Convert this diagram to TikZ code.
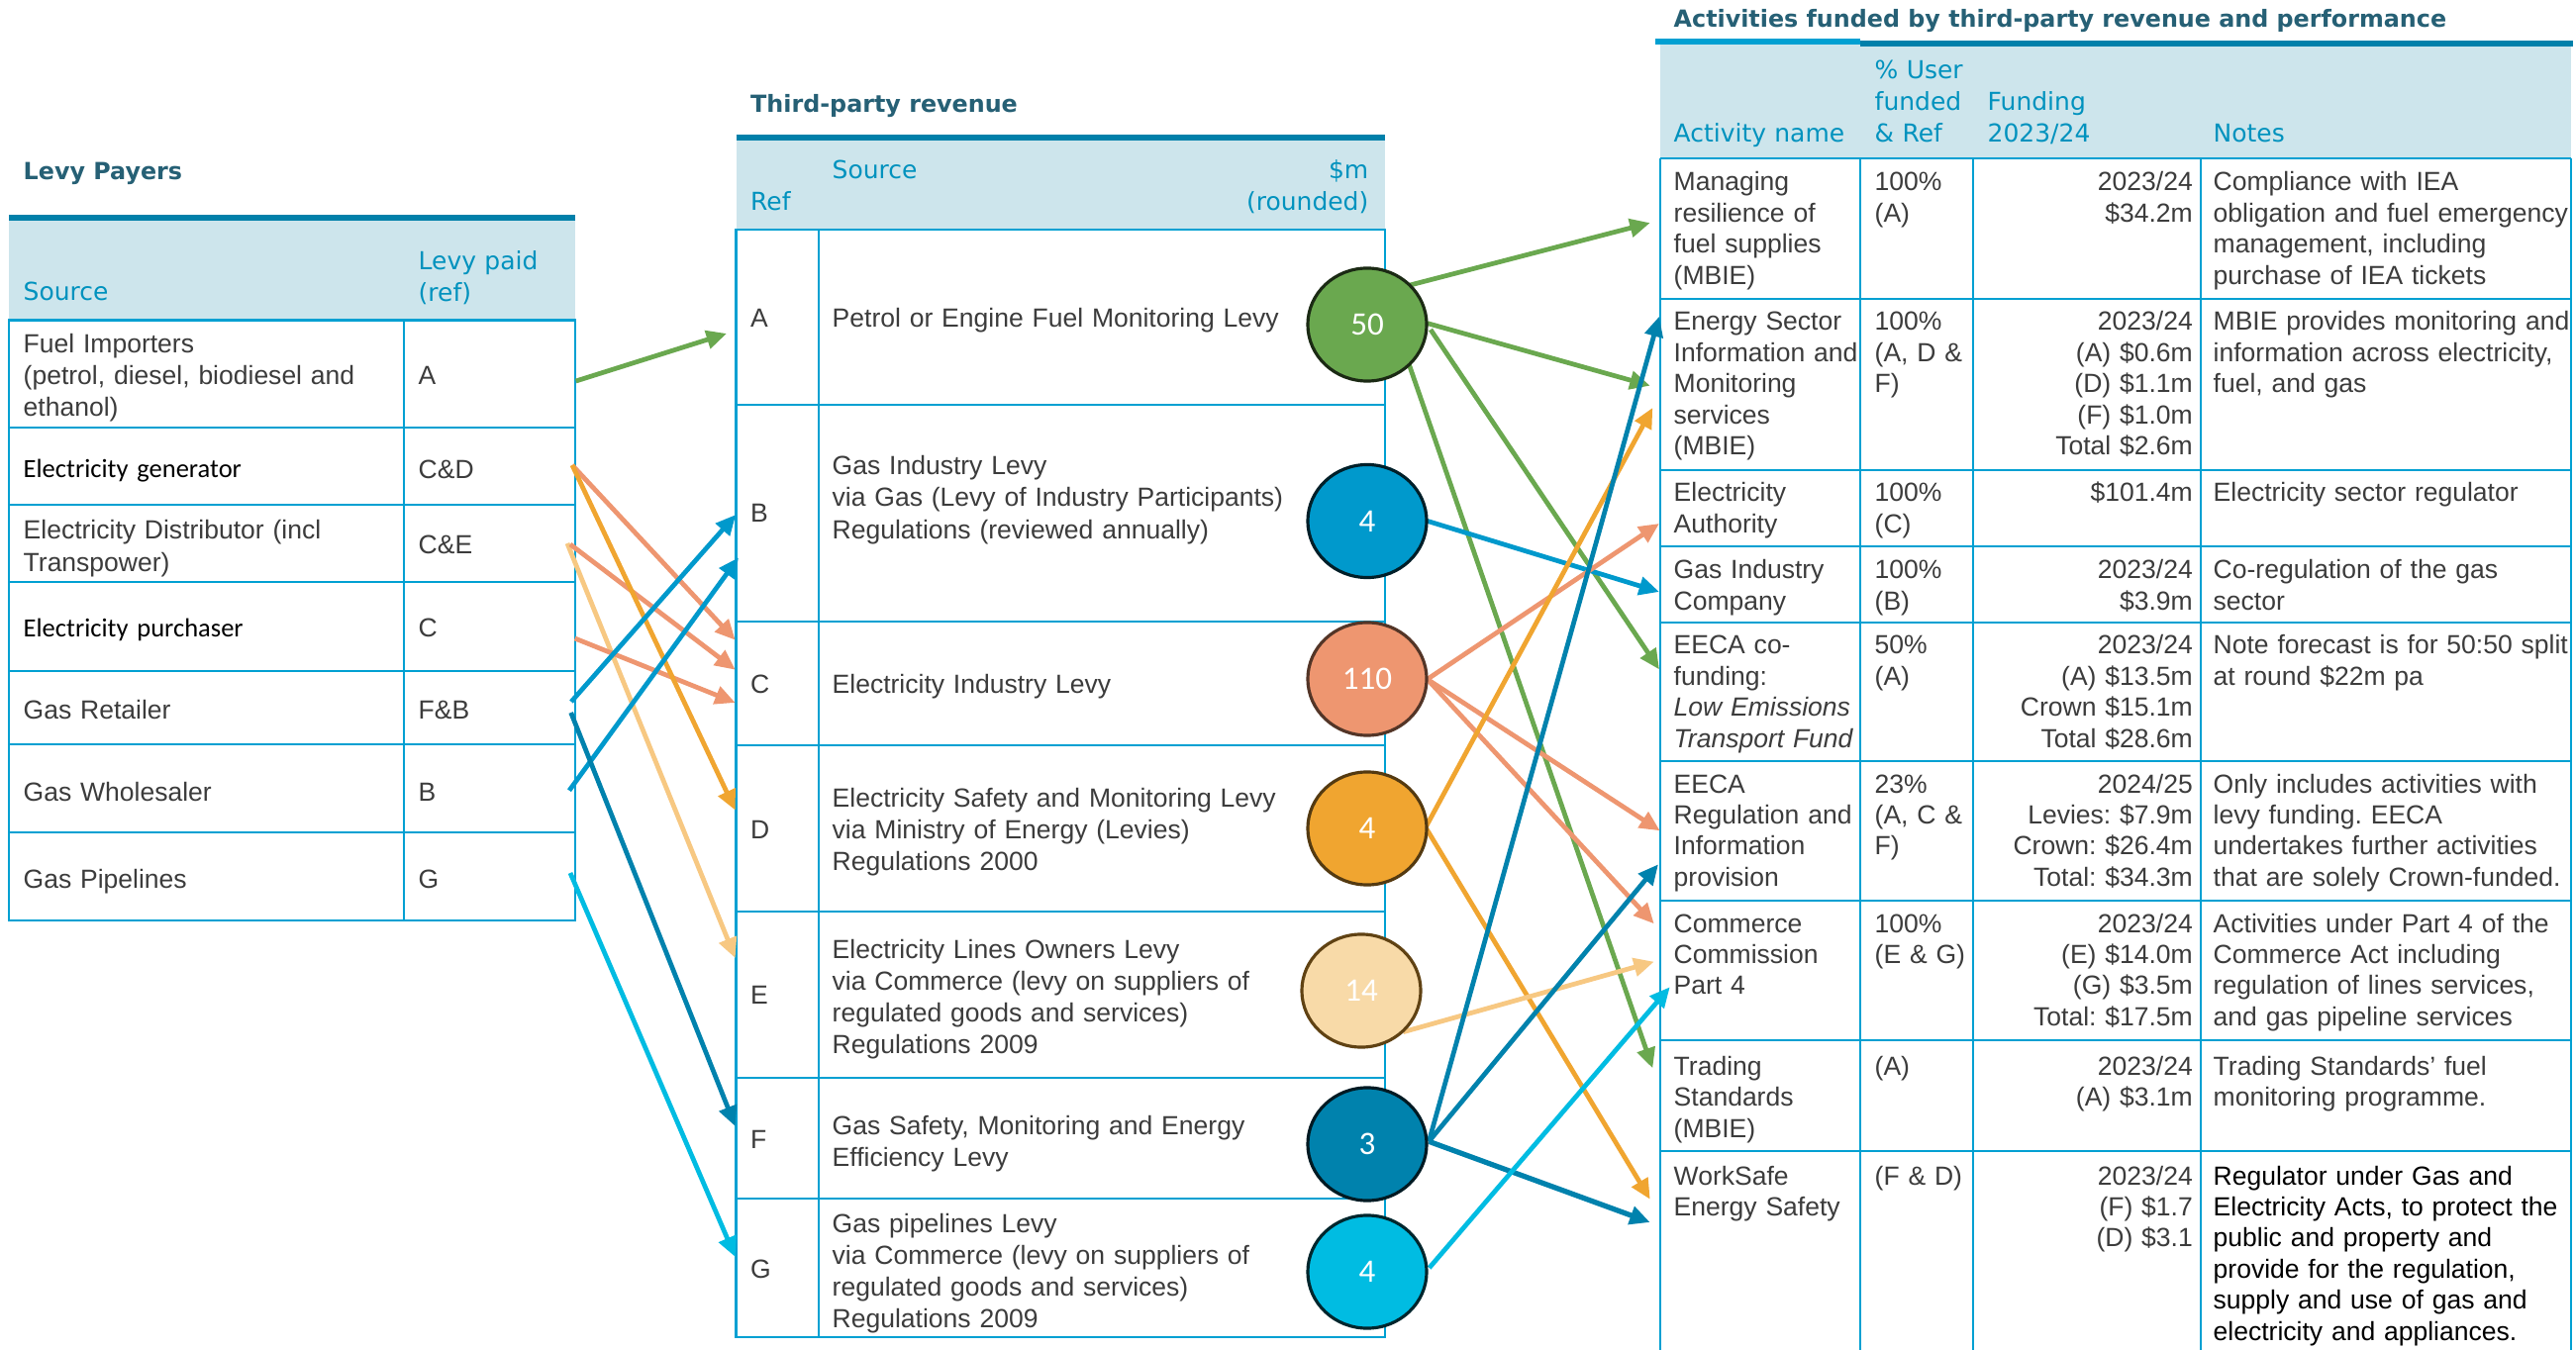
\documentclass[tikz,border=0pt]{standalone}
\usepackage{fontspec}
\usetikzlibrary{arrows.meta,shapes.geometric}
\newfontfamily\arialf{Liberation Sans}
\newfontfamily\verdf{DejaVu Sans}
\newfontfamily\calf{Carlito}
\definecolor{ttl}{RGB}{38,96,117}
\definecolor{hdtxt}{RGB}{0,146,190}
\definecolor{hdfill}{RGB}{205,229,236}
\definecolor{topln}{RGB}{0,128,170}
\definecolor{gridc}{RGB}{0,160,210}
\definecolor{bodytxt}{RGB}{60,60,60}
\definecolor{colA}{RGB}{106,168,79}
\definecolor{colB}{RGB}{0,153,204}
\definecolor{colC}{RGB}{238,150,112}
\definecolor{colD}{RGB}{240,165,48}
\definecolor{colE}{RGB}{248,218,168}
\definecolor{colEa}{RGB}{247,200,130}
\definecolor{colF}{RGB}{0,130,173}
\definecolor{colG}{RGB}{0,188,226}
\newcommand\ftitle{\verdf\bfseries\fontsize{6.77}{8}\selectfont}
\newcommand\fhead{\verdf\fontsize{7.1}{9.05}\selectfont}
\newcommand\fbody{\arialf\fontsize{7.54}{9.1}\selectfont}
\newcommand\fbodyr{\arialf\fontsize{7.54}{8.93}\selectfont}
\newcommand\fcal{\calf\fontsize{7.54}{9.1}\selectfont}
\newcommand\fnum{\calf\fontsize{9.4}{11}\selectfont}
\frenchspacing
\begin{document}
\frenchspacing
\begin{tikzpicture}[x=0.01cm,y=-0.01cm,
  tl/.style={anchor=base west,inner sep=0pt,align=left,text width=5cm},
  tr/.style={anchor=base east,inner sep=0pt,align=right,text width=3cm},
  ttlst/.style={anchor=base west,inner sep=0pt,text=ttl,font=\ftitle},
  hd/.style={tl,text=hdtxt,font=\fhead},
  hdr/.style={tr,text=hdtxt,font=\fhead},
  bt/.style={tl,text=bodytxt,font=\fbody},
  btr/.style={tl,text=bodytxt,font=\fbodyr},
  btrr/.style={tr,text=bodytxt,font=\fbodyr},
  gridln/.style={draw=gridc,line width=0.8pt},
  topbar/.style={draw=topln,line width=1.7pt},
  arr/.style={line width=1.35pt,-{Triangle[length=5.8pt,width=5.2pt]}},
  circ/.style={ellipse,minimum width=1.2cm,minimum height=1.14cm,inner sep=0pt,line width=0.9pt,text=white,font=\fnum}]
\useasboundingbox (0,0) rectangle (2602,1364);
\fill[white] (0,0) rectangle (2602,1364);

% ---------------- Left table ----------------
\node[ttlst] (t1) at (23,182) {Levy Payers};
\fill[hdfill] (9,220) rectangle (581,323.5);
\draw[topbar] (9,220) -- (581,220);
\draw[gridln] (9,323.5) rectangle (581,930);
\foreach \yy in {432,510,588,678,752,841} \draw[gridln] (9,\yy) -- (581,\yy);
\draw[gridln] (408,323.5) -- (408,930);
\node[hd] (lh1) at (23,304) {Source};
\node[hd] (lh2) at (422,272.3) {Levy paid\\(ref)};
\node[bt] (l1a) at (23,356.5) {Fuel Importers\\(petrol, diesel, biodiesel and\\ethanol)};
\node[bt] (l1b) at (422,389) {A};
\node[tl,text=black,font=\fcal] (l2a) at (23,483) {Electricity generator};
\node[bt] (l2b) at (422,483.5) {C\&D};
\node[bt] (l3a) at (23,545) {Electricity Distributor (incl\\Transpower)};
\node[bt] (l3b) at (422,560) {C\&E};
\node[tl,text=black,font=\fcal] (l4a) at (23,643.6) {Electricity purchaser};
\node[bt] (l4b) at (422,643.6) {C};
\node[bt] (l5a) at (23,726) {Gas Retailer};
\node[bt] (l5b) at (422,726) {F\&B};
\node[bt] (l6a) at (23,809) {Gas Wholesaler};
\node[bt] (l6b) at (422,809) {B};
\node[bt] (l7a) at (23,897) {Gas Pipelines};
\node[bt] (l7b) at (422,897) {G};

% ---------------- Middle table ----------------
\node[ttlst] (t2) at (757.5,113.6) {Third-party revenue};
\fill[hdfill] (743.5,139) rectangle (1399,232);
\draw[topbar] (743.5,139) -- (1399,139);
\draw[gridln] (743.5,232) rectangle (1399,1351);
\foreach \yy in {409,628,753,921,1089,1211} \draw[gridln] (743.5,\yy) -- (1399,\yy);
\draw[gridln] (827,232) -- (827,1351);
\node[hd] (mh1) at (757.5,212.7) {Ref};
\node[hd] (mh2) at (840,180.5) {Source};
\node[hdr] (mh3) at (1383,180.5) {\$m\\(rounded)};
\node[bt] (mAr) at (757.5,331) {A};
\node[bt] (mAs) at (840,331) {Petrol or Engine Fuel Monitoring Levy};
\node[bt] (mBr) at (757.5,528) {B};
\node[bt] (mBs) at (840,480) {Gas Industry Levy\\via Gas (Levy of Industry Participants)\\Regulations (reviewed annually)};
\node[bt] (mCr) at (757.5,700) {C};
\node[bt] (mCs) at (840,700) {Electricity Industry Levy};
\node[bt] (mDr) at (757.5,847) {D};
\node[bt] (mDs) at (840,815.6) {Electricity Safety and Monitoring Levy\\via Ministry of Energy (Levies)\\Regulations 2000};
\node[bt] (mEr) at (757.5,1014.6) {E};
\node[bt] (mEs) at (840,968.8) {Electricity Lines Owners Levy\\via Commerce (levy on suppliers of\\regulated goods and services)\\Regulations 2009};
\node[bt] (mFr) at (757.5,1160) {F};
\node[bt] (mFs) at (840,1146) {Gas Safety, Monitoring and Energy\\Efficiency Levy};
\node[bt] (mGr) at (757.5,1291) {G};
\node[bt] (mGs) at (840,1245.4) {Gas pipelines Levy\\via Commerce (levy on suppliers of\\regulated goods and services)\\Regulations 2009};

% ---------------- Right table ----------------
\node[ttlst] (t3) at (1690,28) {Activities funded by third-party revenue and performance};
\fill[hdfill] (1677,44) rectangle (2597,160);
\draw[topbar] (1879,44) -- (2599,44);
\draw[draw=gridc,line width=1.7pt] (1672,42) -- (1879,42);
\foreach \yy in {160,302,475,552,629,769,910,1051,1163} \draw[gridln] (1677,\yy) -- (2597,\yy);
\foreach \xx in {1677,1879,1993,2223,2597} \draw[gridln] (\xx,160) -- (\xx,1364);
\node[hd] (rh1) at (1690,143.6) {Activity name};
\node[hd] (rh2) at (1893,80) {\% User\\funded\\\& Ref};
\node[hd] (rh3) at (2007,111.8) {Funding\\2023/24};
\node[hd] (rh4) at (2235,143.6) {Notes};

\node[btr] (r1a) at (1690,193) {Managing\\resilience of\\fuel supplies\\(MBIE)};
\node[btr] (r1b) at (1893,193) {100\%\\(A)};
\node[btrr] (r1c) at (2215.5,193) {2023/24\\\$34.2m};
\node[btr] (r1d) at (2235,193) {Compliance with IEA\\obligation and fuel emergency\\management, including\\purchase of IEA tickets};

\node[btr] (r2a) at (1690,334) {Energy Sector\\Information and\\Monitoring\\services\\(MBIE)};
\node[btr] (r2b) at (1893,334) {100\%\\(A, D \&\\F)};
\node[btrr] (r2c) at (2215.5,334) {2023/24\\(A) \$0.6m\\(D) \$1.1m\\(F) \$1.0m\\Total \$2.6m};
\node[btr] (r2d) at (2235,334) {MBIE provides monitoring and\\information across electricity,\\fuel, and gas};

\node[btr] (r3a) at (1690,507) {Electricity\\Authority};
\node[btr] (r3b) at (1893,507) {100\%\\(C)};
\node[btrr] (r3c) at (2215.5,507) {\$101.4m};
\node[btr] (r3d) at (2235,507) {Electricity sector regulator};

\node[btr] (r4a) at (1690,584.8) {Gas Industry\\Company};
\node[btr] (r4b) at (1893,584.8) {100\%\\(B)};
\node[btrr] (r4c) at (2215.5,584.8) {2023/24\\\$3.9m};
\node[btr] (r4d) at (2235,584.8) {Co-regulation of the gas\\sector};

\node[btr] (r5a) at (1690,661) {EECA co-\\funding:\\\textit{Low Emissions}\\\textit{Transport Fund}};
\node[btr] (r5b) at (1893,661) {50\%\\(A)};
\node[btrr] (r5c) at (2215.5,661) {2023/24\\(A) \$13.5m\\Crown \$15.1m\\Total \$28.6m};
\node[btr] (r5d) at (2235,661) {Note forecast is for 50:50 split\\at round \$22m pa};

\node[btr] (r6a) at (1690,801) {EECA\\Regulation and\\Information\\provision};
\node[btr] (r6b) at (1893,801) {23\%\\(A, C \&\\F)};
\node[btrr] (r6c) at (2215.5,801) {2024/25\\Levies: \$7.9m\\Crown: \$26.4m\\Total: \$34.3m};
\node[btr] (r6d) at (2235,801) {Only includes activities with\\levy funding. EECA\\undertakes further activities\\that are solely Crown-funded.};

\node[btr] (r7a) at (1690,942) {Commerce\\Commission\\Part 4};
\node[btr] (r7b) at (1893,942) {100\%\\(E \& G)};
\node[btrr] (r7c) at (2215.5,942) {2023/24\\(E) \$14.0m\\(G) \$3.5m\\Total: \$17.5m};
\node[btr] (r7d) at (2235,942) {Activities under Part 4 of the\\Commerce Act including\\regulation of lines services,\\and gas pipeline services};

\node[btr] (r8a) at (1690,1086.4) {Trading\\Standards\\(MBIE)};
\node[btr] (r8b) at (1893,1086.4) {(A)};
\node[btrr] (r8c) at (2215.5,1086.4) {2023/24\\(A) \$3.1m};
\node[btr] (r8d) at (2235,1086.4) {Trading Standards’ fuel\\monitoring programme.};

\node[btr] (r9a) at (1690,1197) {WorkSafe\\Energy Safety};
\node[btr] (r9b) at (1893,1197) {(F \& D)};
\node[btrr] (r9c) at (2215.5,1197) {2023/24\\(F) \$1.7\\(D) \$3.1};
\node[tl,text=black,font=\fbodyr] (r9d) at (2235,1197) {Regulator under Gas and\\Electricity Acts, to protect the\\public and property and\\provide for the regulation,\\supply and use of gas and\\electricity and appliances.};

% ---------------- connector end points ----------------
\coordinate (pFuel) at (581.7,385);
\coordinate (pGen) at (578,470);
\coordinate (pDist) at (576,550);
\coordinate (pDist2) at (573,549);
\coordinate (pPur) at (580.7,645);
\coordinate (pRet1) at (577,709);
\coordinate (pRet2) at (576.7,720);
\coordinate (pWho) at (575,798.7);
\coordinate (pPipe) at (576,882);
\coordinate (inA) at (734,337);
\coordinate (inC1) at (742.7,646.7);
\coordinate (inC2) at (742.7,676.7);
\coordinate (inC3) at (742.7,710);
\coordinate (inD) at (742.7,818.6);
\coordinate (inE) at (742.7,968);
\coordinate (inB1) at (743.3,520);
\coordinate (inB2) at (746,563.3);
\coordinate (inF) at (742.7,1138);
\coordinate (inG) at (742.7,1270);
\coordinate (oA1) at (1423.3,288.3);
\coordinate (oA2) at (1441.7,326.6);
\coordinate (oA3) at (1445,333);
\coordinate (oA4) at (1423.3,368.3);
\coordinate (oB) at (1441.7,526.4);
\coordinate (oC) at (1441.7,686.3);
\coordinate (oD) at (1440,836);
\coordinate (oE) at (1417.3,1042.7);
\coordinate (oF) at (1443.3,1153.3);
\coordinate (oG) at (1443.7,1281);
\coordinate (tMan) at (1666.7,225.2);
\coordinate (tEnA) at (1666.7,389.7);
\coordinate (tEnD) at (1669.3,412);
\coordinate (tEnF) at (1676,319.7);
\coordinate (tEA) at (1676,529);
\coordinate (tGIC) at (1676,598);
\coordinate (tCof) at (1676,676.4);
\coordinate (tRegC) at (1676.7,839.3);
\coordinate (tRegF) at (1675,873.3);
\coordinate (tComC) at (1670.7,933.3);
\coordinate (tComE) at (1670.7,971.7);
\coordinate (tComG) at (1686.7,997.3);
\coordinate (tTrd) at (1669.3,1079.3);
\coordinate (tWsD) at (1666.7,1211.7);
\coordinate (tWsF) at (1666.7,1235);

% ---------------- left connectors ----------------
\draw[arr,colA] (pFuel) -- (inA);
\draw[arr,colEa] (pDist2) -- (inE);
\draw[arr,colC] (pGen) -- (inC1);
\draw[arr,colC] (pDist) -- (inC2);
\draw[arr,colC] (pPur) -- (inC3);
\draw[arr,colD] (pGen) -- (inD);
\draw[arr,colB] (pRet1) -- (inB1);
\draw[arr,colB] (pWho) -- (inB2);
\draw[arr,colF] (pRet2) -- (inF);
\draw[arr,colG] (pPipe) -- (inG);

% ---------------- right connectors ----------------
\draw[arr,colA] (oA1) -- (tMan);
\draw[arr,colA] (oA2) -- (tEnA);
\draw[arr,colA] (oA3) -- (tCof);
\draw[arr,colA] (oA4) -- (tTrd);
\draw[arr,colB] (oB) -- (tGIC);
\draw[arr,colC] (oC) -- (tEA);
\draw[arr,colC] (oC) -- (tRegC);
\draw[arr,colC] (oC) -- (tComC);
\draw[arr,colD] (oD) -- (tEnD);
\draw[arr,colD] (oD) -- (tWsD);
\draw[arr,colEa] (oE) -- (tComE);
\draw[arr,colF] (oF) -- (tEnF);
\draw[arr,colF] (oF) -- (tRegF);
\draw[arr,colF,line width=1.5pt] (oF) -- (tWsF);
\draw[arr,colG] (oG) -- (tComG);

% ---------------- circles ----------------
\node[circ,fill=colA,draw=colA!25!black] (cirA) at (1381,328) {50};
\node[circ,fill=colB,draw=colB!20!black] (cirB) at (1381,526.5) {4};
\node[circ,fill=colC,draw=colC!35!black] (cirC) at (1381,686) {110};
\node[circ,fill=colD,draw=colD!35!black] (cirD) at (1381,837) {4};
\node[circ,fill=colE,draw=colD!40!black] (cirE) at (1375,1001) {14};
\node[circ,fill=colF,draw=colF!20!black] (cirF) at (1381,1156) {3};
\node[circ,fill=colG,draw=colG!20!black] (cirG) at (1381,1285) {4};
\end{tikzpicture}
\end{document}
